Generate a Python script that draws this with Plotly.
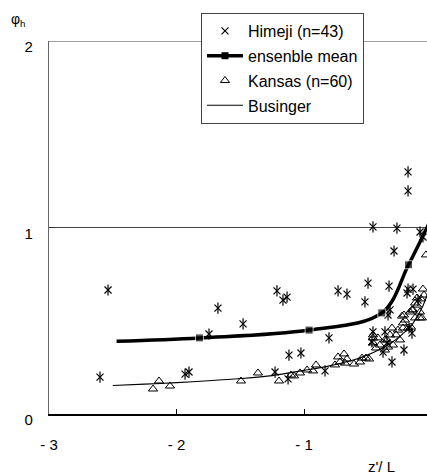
import plotly.graph_objects as go

# ---------------- data ----------------
himeji_x = [-2.60, -2.537, -1.933, -1.902, -1.745, -1.675, -1.478, -1.227, -1.212, -1.165,
            -1.133, -1.118, -1.125, -1.024, -0.835, -0.804, -0.733, -0.663, -0.522, -0.498,
            -0.459, -0.271, -0.184, -0.184, -0.090, -0.067, -0.294, -0.333, -0.184, -0.145,
            -0.325, -0.341, -0.459, -0.365, -0.380, -0.216, -0.310, -0.153, -0.176, -0.467,
            -0.349, -0.192, -0.106]
himeji_y = [0.198, 0.665, 0.214, 0.225, 0.429, 0.568, 0.483, 0.225, 0.660, 0.611,
            0.627, 0.316, 0.188, 0.327, 0.231, 0.408, 0.660, 0.643, 0.601, 0.702,
            1.003, 0.997, 1.298, 1.196, 0.976, 0.949, 0.874, 0.686, 0.670, 0.670,
            0.558, 0.531, 0.440, 0.440, 0.332, 0.343, 0.279, 0.434, 0.461, 0.386,
            0.381, 0.649, 0.611]

kansas_x = [-2.184, -2.137, -2.051, -1.494, -1.361, -1.196, -1.102, -1.078, -1.031, -0.976,
            -0.929, -0.906, -0.757, -0.733, -0.686, -0.678, -0.663, -0.608, -0.545, -0.514,
            -0.490, -0.459, -0.459, -0.459, -0.365, -0.349, -0.341, -0.365, -0.310, -0.302,
            -0.247, -0.231, -0.224, -0.208, -0.224, -0.184, -0.169, -0.161, -0.153, -0.129,
            -0.129, -0.114, -0.090, -0.090, -0.082, -0.075, -0.067, -0.059, -0.114, -0.145,
            -0.216, -0.043, -0.404, -0.278, -0.263, -0.561, -0.718, -0.435, -0.325, -0.420]
kansas_y = [0.134, 0.177, 0.150, 0.177, 0.220, 0.177, 0.209, 0.204, 0.220, 0.236,
            0.231, 0.263, 0.263, 0.306, 0.322, 0.273, 0.295, 0.268, 0.300, 0.300,
            0.295, 0.408, 0.381, 0.424, 0.397, 0.397, 0.359, 0.343, 0.461, 0.370,
            0.397, 0.525, 0.488, 0.504, 0.461, 0.461, 0.547, 0.466, 0.558, 0.515,
            0.595, 0.622, 0.515, 0.547, 0.617, 0.515, 0.670, 0.638, 0.584, 0.558,
            0.531, 0.853, 0.370, 0.424, 0.450, 0.279, 0.279, 0.354, 0.424, 0.408]

mean_x = [-2.47, -1.82, -0.96, -0.39, -0.18, 0.0]
mean_y = [0.39, 0.408, 0.45, 0.542, 0.80, 1.05]
mean_marked = [False, True, True, True, True, False]

businger_x = [-2.5, -2.25, -2.0, -1.75, -1.5, -1.25, -1.0, -0.8, -0.6, -0.5,
              -0.4, -0.3, -0.2, -0.15, -0.1, -0.07, -0.04, -0.02]
businger_y = [0.153, 0.160, 0.168, 0.178, 0.190, 0.206, 0.234, 0.258, 0.292, 0.317,
              0.349, 0.389, 0.446, 0.482, 0.537, 0.575, 0.627, 0.665]

x_ticks = [-3, -2, -1]
x_ticktext = ["- 3", "- 2", "- 1"]
y_ticks = [0, 1, 2]
y_ticktext = ["0", "1", "2"]

names = ["Himeji (n=43)", "ensenble mean", "Kansas (n=60)", "Businger"]

# ---------------- figure ----------------
FONT = "Liberation Sans, Arial, sans-serif"
fig = go.Figure()

fig.add_trace(go.Scatter(
    x=himeji_x, y=himeji_y, mode="markers", name=names[0], legendgroup="a",
    marker=dict(symbol="x-thin-open", size=7, color="black", line=dict(width=1.2, color="black")),
    cliponaxis=True))
fig.add_trace(go.Scatter(
    x=himeji_x, y=himeji_y, mode="markers", showlegend=False, legendgroup="a",
    marker=dict(symbol="line-ns-open", size=8, color="black", line=dict(width=1.2, color="black")),
    cliponaxis=True))

fig.add_trace(go.Scatter(
    x=mean_x, y=mean_y, mode="lines+markers", showlegend=False, legendgroup="b",
    line=dict(color="black", width=3.5, shape="spline", smoothing=1.0),
    marker=dict(symbol="square", color="black",
                size=[8 if m else 0 for m in mean_marked]),
    cliponaxis=True))
fig.add_trace(go.Scatter(
    x=[None], y=[None], mode="lines+markers", name=names[1], legendgroup="b",
    line=dict(color="black", width=3.5),
    marker=dict(symbol="square", color="black", size=7)))

fig.add_trace(go.Scatter(
    x=kansas_x, y=kansas_y, mode="markers", name=names[2], legendgroup="c",
    marker=dict(symbol="triangle-up-open", size=8, color="black", line=dict(width=1, color="black")),
    cliponaxis=True))

fig.add_trace(go.Scatter(
    x=businger_x, y=businger_y, mode="lines", name=names[3], legendgroup="d",
    line=dict(color="black", width=1.1, shape="spline", smoothing=0.8),
    cliponaxis=True))

fig.update_layout(
    width=427, height=472,
    margin=dict(l=49, r=0, t=41, b=58, pad=0),
    paper_bgcolor="white", plot_bgcolor="white",
    font=dict(family=FONT, size=15, color="black"),
    showlegend=True,
    legend=dict(
        x=(201 - 49) / 378, y=(414 - 13) / 373, xanchor="left", yanchor="top",
        bgcolor="white", bordercolor="#444444", borderwidth=1,
        font=dict(family=FONT, size=16, color="black"),
        tracegroupgap=1, traceorder="grouped", itemwidth=36,
    ),
    xaxis=dict(
        range=[-3, -3 + 378 / 127.5], tickvals=x_ticks, ticktext=x_ticktext,
        ticks="inside", ticklen=5, tickcolor="black", tickwidth=1,
        showline=True, linecolor="black", linewidth=1.5, mirror=False,
        showgrid=False, zeroline=False, ticklabelstandoff=16,
        tickfont=dict(family=FONT, size=15, color="black"),
    ),
    yaxis=dict(
        range=[0, 2], tickvals=y_ticks, ticktext=y_ticktext,
        ticks="inside", ticklen=5, tickcolor="#333333", tickwidth=1,
        showline=True, linecolor="#666666", linewidth=1.2,
        showgrid=False, zeroline=False, ticklabelstandoff=12, ticklabelshift=6,
        tickfont=dict(family=FONT, size=15, color="black"),
    ),
    shapes=[
        dict(type="line", xref="paper", x0=0, x1=1, yref="y", y0=1, y1=1,
             line=dict(color="#444444", width=1.2), layer="below"),
        dict(type="line", xref="paper", x0=0, x1=1, yref="y", y0=2, y1=2,
             line=dict(color="#808080", width=1.5), layer="below"),
    ],
    annotations=[
        dict(text="φ<sub>h</sub>", xref="paper", yref="paper",
             x=(9 - 49) / 378, y=(414 - 20) / 373, xanchor="left", yanchor="middle",
             showarrow=False, font=dict(family=FONT, size=14, color="black")),
        dict(text="z'/ L", xref="paper", yref="paper",
             x=(366 - 49) / 378, y=(414 - 456) / 373, xanchor="left", yanchor="top",
             showarrow=False, font=dict(family=FONT, size=15, color="black")),
    ],
)

fig.write_html("out.html")
